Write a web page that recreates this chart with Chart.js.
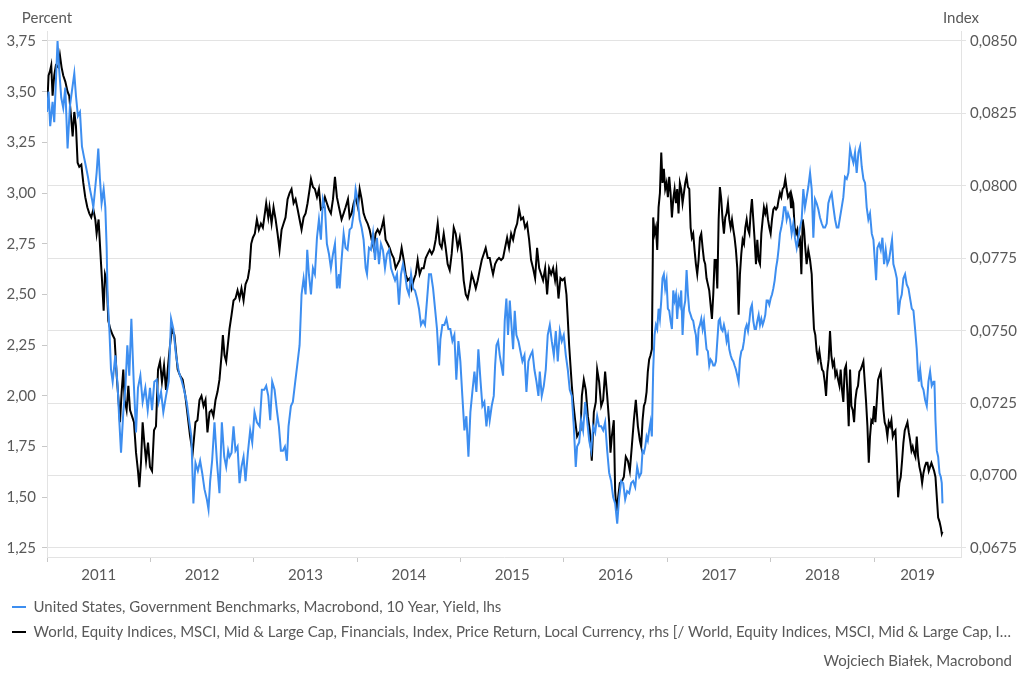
<!DOCTYPE html>
<html>
<head>
<meta charset="utf-8">
<title>US 10Y yield vs MSCI World Financials</title>
<script src="https://cdn.jsdelivr.net/npm/chart.js@4.4.1/dist/chart.umd.min.js"></script>
<style>
  body { margin: 0; background: #fff; }
  #wrap { width: 1024px; height: 681px; position: relative; }
</style>
</head>
<body>
<div id="wrap"><canvas id="chart"></canvas></div>
<script>
// US 10Y government benchmark yield, percent (lhs)
const yieldDates = [
  2011.000, 2011.015, 2011.031, 2011.054, 2011.070, 2011.086, 2011.102, 2011.119, 2011.138, 2011.157,
  2011.177, 2011.199, 2011.222, 2011.248, 2011.264, 2011.280, 2011.299, 2011.319, 2011.338, 2011.357,
  2011.377, 2011.396, 2011.415, 2011.435, 2011.448, 2011.467, 2011.480, 2011.496, 2011.512, 2011.528,
  2011.548, 2011.564, 2011.577, 2011.586, 2011.603, 2011.619, 2011.635, 2011.661, 2011.683, 2011.699,
  2011.716, 2011.738, 2011.758, 2011.777, 2011.796, 2011.816, 2011.838, 2011.861, 2011.880, 2011.903,
  2011.925, 2011.951, 2011.974, 2011.996, 2012.016, 2012.038, 2012.061, 2012.080, 2012.103, 2012.125,
  2012.151, 2012.177, 2012.200, 2012.222, 2012.248, 2012.274, 2012.300, 2012.325, 2012.351, 2012.377,
  2012.396, 2012.416, 2012.436, 2012.459, 2012.481, 2012.501, 2012.523, 2012.546, 2012.562, 2012.578,
  2012.597, 2012.620, 2012.643, 2012.668, 2012.691, 2012.714, 2012.733, 2012.752, 2012.765, 2012.785,
  2012.804, 2012.823, 2012.843, 2012.862, 2012.881, 2012.901, 2012.920, 2012.943, 2012.965, 2012.985,
  2013.007, 2013.030, 2013.056, 2013.078, 2013.101, 2013.120, 2013.140, 2013.159, 2013.178, 2013.201,
  2013.223, 2013.243, 2013.262, 2013.282, 2013.301, 2013.320, 2013.336, 2013.359, 2013.378, 2013.401,
  2013.420, 2013.443, 2013.462, 2013.482, 2013.501, 2013.517, 2013.533, 2013.553, 2013.572, 2013.591,
  2013.611, 2013.630, 2013.649, 2013.669, 2013.688, 2013.707, 2013.727, 2013.746, 2013.766, 2013.785,
  2013.804, 2013.824, 2013.830, 2013.849, 2013.869, 2013.888, 2013.907, 2013.927, 2013.946, 2013.966,
  2013.985, 2014.004, 2014.024, 2014.043, 2014.062, 2014.082, 2014.095, 2014.114, 2014.133, 2014.153,
  2014.172, 2014.191, 2014.211, 2014.230, 2014.249, 2014.269, 2014.288, 2014.308, 2014.327, 2014.346,
  2014.366, 2014.385, 2014.404, 2014.424, 2014.443, 2014.462, 2014.482, 2014.501, 2014.521, 2014.540,
  2014.559, 2014.579, 2014.598, 2014.617, 2014.637, 2014.656, 2014.675, 2014.695, 2014.714, 2014.734,
  2014.753, 2014.772, 2014.792, 2014.805, 2014.824, 2014.843, 2014.863, 2014.882, 2014.901, 2014.921,
  2014.940, 2014.959, 2014.979, 2014.998, 2015.017, 2015.037, 2015.056, 2015.076, 2015.095, 2015.114,
  2015.134, 2015.153, 2015.172, 2015.192, 2015.211, 2015.230, 2015.250, 2015.269, 2015.282, 2015.301,
  2015.321, 2015.334, 2015.347, 2015.363, 2015.379, 2015.395, 2015.411, 2015.427, 2015.443, 2015.459,
  2015.476, 2015.492, 2015.508, 2015.524, 2015.540, 2015.560, 2015.579, 2015.598, 2015.618, 2015.637,
  2015.656, 2015.676, 2015.695, 2015.714, 2015.734, 2015.753, 2015.766, 2015.785, 2015.805, 2015.824,
  2015.843, 2015.863, 2015.882, 2015.902, 2015.921, 2015.940, 2015.960, 2015.979, 2015.998, 2016.018,
  2016.037, 2016.056, 2016.076, 2016.095, 2016.114, 2016.127, 2016.147, 2016.166, 2016.185, 2016.205,
  2016.224, 2016.244, 2016.263, 2016.282, 2016.302, 2016.321, 2016.340, 2016.360, 2016.379, 2016.398,
  2016.418, 2016.437, 2016.456, 2016.476, 2016.495, 2016.515, 2016.534, 2016.553, 2016.573, 2016.592,
  2016.611, 2016.631, 2016.650, 2016.669, 2016.689, 2016.708, 2016.728, 2016.747, 2016.760, 2016.773,
  2016.786, 2016.799, 2016.811, 2016.824, 2016.837, 2016.850, 2016.863, 2016.876, 2016.889, 2016.902,
  2016.915, 2016.928, 2016.941, 2016.953, 2016.966, 2016.979, 2016.992, 2017.005, 2017.018, 2017.031,
  2017.044, 2017.057, 2017.070, 2017.083, 2017.095, 2017.108, 2017.121, 2017.134, 2017.147, 2017.160,
  2017.173, 2017.186, 2017.199, 2017.212, 2017.225, 2017.237, 2017.250, 2017.263, 2017.276, 2017.289,
  2017.302, 2017.315, 2017.328, 2017.341, 2017.354, 2017.366, 2017.379, 2017.392, 2017.405, 2017.418,
  2017.431, 2017.444, 2017.457, 2017.470, 2017.483, 2017.496, 2017.508, 2017.521, 2017.534, 2017.547,
  2017.560, 2017.573, 2017.586, 2017.599, 2017.612, 2017.625, 2017.638, 2017.650, 2017.663, 2017.676,
  2017.689, 2017.702, 2017.715, 2017.728, 2017.741, 2017.754, 2017.767, 2017.780, 2017.793, 2017.805,
  2017.818, 2017.831, 2017.844, 2017.857, 2017.870, 2017.883, 2017.896, 2017.909, 2017.922, 2017.934,
  2017.947, 2017.960, 2017.973, 2017.986, 2017.999, 2018.012, 2018.025, 2018.038, 2018.051, 2018.064,
  2018.077, 2018.089, 2018.102, 2018.115, 2018.128, 2018.141, 2018.154, 2018.167, 2018.186, 2018.202,
  2018.218, 2018.234, 2018.251, 2018.267, 2018.283, 2018.299, 2018.315, 2018.331, 2018.347, 2018.363,
  2018.380, 2018.396, 2018.412, 2018.428, 2018.444, 2018.460, 2018.476, 2018.493, 2018.509, 2018.525,
  2018.541, 2018.557, 2018.573, 2018.589, 2018.606, 2018.622, 2018.638, 2018.654, 2018.670, 2018.686,
  2018.702, 2018.718, 2018.735, 2018.751, 2018.767, 2018.783, 2018.799, 2018.815, 2018.831, 2018.848,
  2018.864, 2018.880, 2018.896, 2018.912, 2018.928, 2018.944, 2018.960, 2018.977, 2018.993, 2019.009,
  2019.019, 2019.031, 2019.048, 2019.064, 2019.080, 2019.096, 2019.112, 2019.128, 2019.144, 2019.161,
  2019.173, 2019.186, 2019.202, 2019.219, 2019.235, 2019.251, 2019.267, 2019.283, 2019.299, 2019.315,
  2019.332, 2019.348, 2019.364, 2019.380, 2019.396, 2019.412, 2019.422, 2019.432, 2019.445, 2019.461,
  2019.477, 2019.493, 2019.509, 2019.525, 2019.541, 2019.557, 2019.574, 2019.583, 2019.593, 2019.606,
  2019.619, 2019.632, 2019.645, 2019.654, 2019.661
];
const yieldValues = [
  3.40, 3.50, 3.33, 3.45, 3.35, 3.55, 3.75, 3.60, 3.47, 3.42,
  3.52, 3.22, 3.43, 3.53, 3.59, 3.48, 3.38, 3.40, 3.23, 3.18,
  3.13, 3.08, 3.02, 2.97, 2.93, 3.03, 3.10, 3.22, 3.07, 2.95,
  3.02, 2.93, 2.73, 2.49, 2.33, 2.13, 2.07, 2.20, 2.05, 1.88,
  1.72, 1.92, 2.04, 2.25, 2.10, 2.38, 2.08, 1.82, 2.04, 2.10,
  1.97, 2.04, 1.93, 2.04, 1.93, 2.07, 2.08, 1.97, 2.02, 1.92,
  2.00, 2.07, 2.38, 2.33, 2.20, 2.12, 2.08, 2.03, 1.97, 1.87,
  1.80, 1.47, 1.67, 1.63, 1.68, 1.62, 1.54, 1.49, 1.44, 1.58,
  1.68, 1.87, 1.68, 1.52, 1.87, 1.70, 1.65, 1.73, 1.70, 1.72,
  1.85, 1.73, 1.75, 1.57, 1.65, 1.70, 1.58, 1.72, 1.83, 1.77,
  1.92, 1.87, 1.85, 2.03, 2.03, 2.05, 2.00, 1.88, 2.07, 2.03,
  1.93, 1.85, 1.73, 1.73, 1.75, 1.68, 1.85, 1.95, 1.97, 2.07,
  2.15, 2.25, 2.50, 2.58, 2.50, 2.72, 2.60, 2.50, 2.63, 2.60,
  2.78, 2.87, 2.77, 2.97, 2.93, 2.75, 2.70, 2.63, 2.70, 2.75,
  2.53, 2.60, 2.53, 2.67, 2.80, 2.73, 2.72, 2.82, 2.83, 2.90,
  3.02, 2.97, 2.87, 2.83, 2.77, 2.63, 2.60, 2.73, 2.72, 2.80,
  2.67, 2.78, 2.65, 2.75, 2.72, 2.63, 2.70, 2.72, 2.63, 2.60,
  2.57, 2.60, 2.45, 2.60, 2.65, 2.60, 2.53, 2.50, 2.60, 2.53,
  2.52, 2.48, 2.43, 2.35, 2.37, 2.35, 2.47, 2.60, 2.60, 2.53,
  2.43, 2.33, 2.15, 2.28, 2.35, 2.35, 2.38, 2.33, 2.33, 2.27,
  2.30, 2.08, 2.27, 2.17, 2.00, 1.83, 1.90, 1.70, 1.92, 2.02,
  2.12, 2.02, 2.23, 2.08, 1.95, 1.97, 1.85, 1.95, 1.88, 1.95,
  2.00, 2.15, 2.25, 2.27, 2.20, 2.15, 2.10, 2.37, 2.48, 2.30,
  2.47, 2.35, 2.23, 2.42, 2.30, 2.27, 2.22, 2.17, 2.20, 2.02,
  2.17, 2.20, 2.22, 2.13, 2.07, 2.00, 2.12, 2.00, 2.05, 2.13,
  2.30, 2.35, 2.27, 2.20, 2.32, 2.17, 2.32, 2.27, 2.30, 2.20,
  2.13, 2.03, 2.00, 1.85, 1.65, 1.75, 1.77, 1.88, 1.83, 1.97,
  1.88, 1.78, 1.73, 1.85, 1.82, 1.90, 1.85, 1.85, 1.83, 1.87,
  1.73, 1.62, 1.58, 1.50, 1.47, 1.37, 1.50, 1.58, 1.57, 1.49,
  1.53, 1.52, 1.57, 1.58, 1.55, 1.65, 1.60, 1.62, 1.73, 1.72,
  1.75, 1.80, 1.78, 1.83, 1.87, 1.80, 2.13, 2.30, 2.35, 2.33,
  2.43, 2.38, 2.47, 2.58, 2.60, 2.53, 2.57, 2.43, 2.42, 2.37,
  2.33, 2.52, 2.47, 2.50, 2.38, 2.48, 2.45, 2.52, 2.30, 2.43,
  2.47, 2.62, 2.50, 2.42, 2.40, 2.38, 2.37, 2.33, 2.30, 2.20,
  2.33, 2.35, 2.38, 2.33, 2.37, 2.30, 2.23, 2.22, 2.15, 2.18,
  2.17, 2.15, 2.15, 2.17, 2.27, 2.37, 2.38, 2.33, 2.32, 2.35,
  2.32, 2.27, 2.30, 2.23, 2.20, 2.18, 2.17, 2.15, 2.13, 2.10,
  2.07, 2.18, 2.22, 2.23, 2.27, 2.33, 2.35, 2.32, 2.37, 2.43,
  2.45, 2.37, 2.33, 2.33, 2.37, 2.40, 2.35, 2.38, 2.35, 2.37,
  2.40, 2.47, 2.47, 2.45, 2.48, 2.50, 2.53, 2.57, 2.63, 2.67,
  2.73, 2.80, 2.83, 2.87, 2.93, 2.93, 2.87, 2.90, 2.87, 2.80,
  2.85, 2.78, 2.73, 2.78, 2.83, 2.87, 3.02, 2.93, 2.98, 3.03,
  3.10, 3.02, 2.78, 2.97, 2.95, 2.92, 2.88, 2.85, 2.83, 2.83,
  2.85, 2.95, 2.98, 3.00, 2.93, 2.87, 2.83, 2.83, 2.88, 2.93,
  2.98, 3.08, 3.07, 3.10, 3.22, 3.18, 3.15, 3.20, 3.10, 3.20,
  3.23, 3.13, 3.07, 3.05, 2.93, 2.87, 2.90, 2.80, 2.77, 2.65,
  2.57, 2.73, 2.75, 2.72, 2.78, 2.65, 2.72, 2.65, 2.67, 2.73,
  2.77, 2.65, 2.62, 2.58, 2.40, 2.47, 2.50, 2.58, 2.60, 2.55,
  2.53, 2.48, 2.43, 2.42, 2.33, 2.23, 2.13, 2.07, 2.13, 2.05,
  2.03, 1.98, 1.95, 2.07, 2.12, 2.05, 2.07, 2.07, 1.88, 1.73,
  1.70, 1.62, 1.60, 1.57, 1.47
];

// MSCI World financials index, local currency (rhs)
const equityDates = [
  2011.000, 2011.015, 2011.028, 2011.041, 2011.054, 2011.070, 2011.086, 2011.109, 2011.125, 2011.141,
  2011.157, 2011.177, 2011.199, 2011.215, 2011.232, 2011.248, 2011.264, 2011.280, 2011.296, 2011.312,
  2011.332, 2011.351, 2011.370, 2011.390, 2011.409, 2011.428, 2011.448, 2011.467, 2011.480, 2011.499,
  2011.515, 2011.532, 2011.548, 2011.561, 2011.577, 2011.593, 2011.612, 2011.635, 2011.654, 2011.674,
  2011.693, 2011.706, 2011.722, 2011.738, 2011.751, 2011.770, 2011.787, 2011.803, 2011.822, 2011.841,
  2011.861, 2011.880, 2011.893, 2011.909, 2011.925, 2011.941, 2011.958, 2011.977, 2011.996, 2012.016,
  2012.035, 2012.054, 2012.074, 2012.093, 2012.112, 2012.132, 2012.151, 2012.171, 2012.190, 2012.209,
  2012.232, 2012.264, 2012.287, 2012.312, 2012.338, 2012.361, 2012.384, 2012.409, 2012.436, 2012.455,
  2012.475, 2012.494, 2012.514, 2012.533, 2012.552, 2012.572, 2012.591, 2012.610, 2012.630, 2012.649,
  2012.668, 2012.688, 2012.701, 2012.717, 2012.733, 2012.749, 2012.765, 2012.785, 2012.804, 2012.823,
  2012.843, 2012.862, 2012.881, 2012.901, 2012.920, 2012.943, 2012.959, 2012.975, 2012.991, 2013.010,
  2013.030, 2013.049, 2013.069, 2013.088, 2013.107, 2013.120, 2013.140, 2013.152, 2013.172, 2013.191,
  2013.211, 2013.230, 2013.249, 2013.269, 2013.288, 2013.307, 2013.327, 2013.346, 2013.365, 2013.385,
  2013.404, 2013.424, 2013.443, 2013.462, 2013.482, 2013.501, 2013.520, 2013.540, 2013.553, 2013.572,
  2013.591, 2013.611, 2013.630, 2013.649, 2013.669, 2013.688, 2013.707, 2013.727, 2013.746, 2013.766,
  2013.785, 2013.804, 2013.824, 2013.849, 2013.869, 2013.888, 2013.911, 2013.927, 2013.946, 2013.966,
  2013.985, 2014.007, 2014.024, 2014.043, 2014.062, 2014.082, 2014.101, 2014.120, 2014.140, 2014.159,
  2014.178, 2014.198, 2014.217, 2014.237, 2014.256, 2014.275, 2014.295, 2014.314, 2014.333, 2014.353,
  2014.372, 2014.391, 2014.411, 2014.430, 2014.450, 2014.469, 2014.488, 2014.508, 2014.527, 2014.546,
  2014.566, 2014.585, 2014.604, 2014.624, 2014.643, 2014.663, 2014.682, 2014.701, 2014.721, 2014.740,
  2014.759, 2014.779, 2014.798, 2014.817, 2014.837, 2014.856, 2014.875, 2014.895, 2014.914, 2014.934,
  2014.953, 2014.972, 2014.992, 2015.011, 2015.030, 2015.050, 2015.069, 2015.088, 2015.108, 2015.127,
  2015.147, 2015.166, 2015.185, 2015.205, 2015.224, 2015.243, 2015.263, 2015.282, 2015.301, 2015.314,
  2015.334, 2015.353, 2015.372, 2015.392, 2015.411, 2015.430, 2015.450, 2015.469, 2015.489, 2015.508,
  2015.527, 2015.547, 2015.566, 2015.585, 2015.605, 2015.624, 2015.643, 2015.663, 2015.682, 2015.701,
  2015.721, 2015.740, 2015.760, 2015.779, 2015.798, 2015.818, 2015.837, 2015.856, 2015.876, 2015.895,
  2015.914, 2015.927, 2015.947, 2015.966, 2015.985, 2016.005, 2016.024, 2016.037, 2016.050, 2016.063,
  2016.076, 2016.089, 2016.108, 2016.127, 2016.147, 2016.160, 2016.173, 2016.192, 2016.211, 2016.231,
  2016.250, 2016.269, 2016.289, 2016.308, 2016.321, 2016.340, 2016.360, 2016.379, 2016.398, 2016.418,
  2016.437, 2016.450, 2016.463, 2016.482, 2016.495, 2016.508, 2016.524, 2016.540, 2016.560, 2016.579,
  2016.598, 2016.618, 2016.637, 2016.656, 2016.676, 2016.695, 2016.715, 2016.734, 2016.747, 2016.760,
  2016.773, 2016.786, 2016.799, 2016.811, 2016.824, 2016.837, 2016.850, 2016.863, 2016.876, 2016.889,
  2016.902, 2016.915, 2016.928, 2016.941, 2016.953, 2016.966, 2016.979, 2016.992, 2017.005, 2017.018,
  2017.031, 2017.044, 2017.057, 2017.070, 2017.083, 2017.095, 2017.108, 2017.121, 2017.134, 2017.147,
  2017.160, 2017.173, 2017.186, 2017.199, 2017.212, 2017.225, 2017.237, 2017.250, 2017.263, 2017.276,
  2017.289, 2017.302, 2017.315, 2017.328, 2017.341, 2017.354, 2017.366, 2017.379, 2017.392, 2017.405,
  2017.418, 2017.431, 2017.444, 2017.457, 2017.470, 2017.483, 2017.496, 2017.508, 2017.521, 2017.534,
  2017.547, 2017.560, 2017.573, 2017.586, 2017.599, 2017.612, 2017.625, 2017.638, 2017.650, 2017.663,
  2017.676, 2017.689, 2017.702, 2017.715, 2017.728, 2017.741, 2017.754, 2017.767, 2017.780, 2017.793,
  2017.805, 2017.818, 2017.831, 2017.844, 2017.857, 2017.870, 2017.883, 2017.896, 2017.909, 2017.922,
  2017.934, 2017.947, 2017.960, 2017.973, 2017.986, 2017.999, 2018.012, 2018.025, 2018.038, 2018.051,
  2018.064, 2018.077, 2018.089, 2018.102, 2018.115, 2018.128, 2018.141, 2018.154, 2018.167, 2018.186,
  2018.196, 2018.205, 2018.218, 2018.231, 2018.244, 2018.257, 2018.270, 2018.283, 2018.296, 2018.309,
  2018.322, 2018.334, 2018.347, 2018.363, 2018.380, 2018.396, 2018.405, 2018.418, 2018.431, 2018.444,
  2018.457, 2018.470, 2018.483, 2018.496, 2018.509, 2018.522, 2018.535, 2018.547, 2018.560, 2018.573,
  2018.586, 2018.599, 2018.612, 2018.625, 2018.638, 2018.651, 2018.664, 2018.676, 2018.689, 2018.702,
  2018.715, 2018.728, 2018.741, 2018.754, 2018.767, 2018.780, 2018.793, 2018.806, 2018.818, 2018.831,
  2018.844, 2018.857, 2018.870, 2018.883, 2018.896, 2018.909, 2018.922, 2018.935, 2018.948, 2018.960,
  2018.973, 2018.986, 2018.999, 2019.012, 2019.025, 2019.038, 2019.051, 2019.064, 2019.077, 2019.090,
  2019.102, 2019.115, 2019.128, 2019.141, 2019.154, 2019.167, 2019.180, 2019.193, 2019.206, 2019.219,
  2019.232, 2019.244, 2019.257, 2019.270, 2019.283, 2019.296, 2019.309, 2019.322, 2019.335, 2019.348,
  2019.361, 2019.373, 2019.386, 2019.399, 2019.412, 2019.425, 2019.438, 2019.451, 2019.464, 2019.477,
  2019.490, 2019.503, 2019.516, 2019.528, 2019.541, 2019.554, 2019.567, 2019.580, 2019.593, 2019.606,
  2019.619, 2019.632, 2019.645, 2019.654, 2019.661
];
const equityValues = [
  0.08255, 0.08381, 0.08395, 0.08416, 0.08311, 0.08381, 0.08416, 0.08409, 0.08451, 0.08409,
  0.08381, 0.08360, 0.08325, 0.08311, 0.08241, 0.08171, 0.08255, 0.08206, 0.08080, 0.08066,
  0.08073, 0.08010, 0.07961, 0.07926, 0.07905, 0.07891, 0.07919, 0.07884, 0.07835, 0.07884,
  0.07779, 0.07674, 0.07569, 0.07695, 0.07674, 0.07534, 0.07506, 0.07485, 0.07471, 0.07345,
  0.07254, 0.07184, 0.07289, 0.07366, 0.07261, 0.07226, 0.07310, 0.07226, 0.07205, 0.07184,
  0.07079, 0.07016, 0.06960, 0.07044, 0.07184, 0.07114, 0.07051, 0.07114, 0.07030, 0.07016,
  0.07156, 0.07170, 0.07366, 0.07394, 0.07324, 0.07380, 0.07296, 0.07380, 0.07450, 0.07506,
  0.07485, 0.07366, 0.07345, 0.07331, 0.07275, 0.07205, 0.07135, 0.07079, 0.07184, 0.07191,
  0.07261, 0.07275, 0.07240, 0.07261, 0.07149, 0.07219, 0.07226, 0.07205, 0.07261, 0.07289,
  0.07331, 0.07415, 0.07485, 0.07415, 0.07394, 0.07450, 0.07506, 0.07555, 0.07604, 0.07611,
  0.07639, 0.07611, 0.07646, 0.07604, 0.07660, 0.07681, 0.07716, 0.07800, 0.07821, 0.07835,
  0.07884, 0.07849, 0.07870, 0.07856, 0.07905, 0.07940, 0.07891, 0.07926, 0.07870, 0.07926,
  0.07884, 0.07835, 0.07779, 0.07849, 0.07870, 0.07891, 0.07954, 0.07975, 0.07989, 0.07940,
  0.07954, 0.07919, 0.07884, 0.07849, 0.07891, 0.07905, 0.07940, 0.07989, 0.08024, 0.07996,
  0.07989, 0.07961, 0.07989, 0.07919, 0.07926, 0.07961, 0.07940, 0.07919, 0.07905, 0.07954,
  0.08031, 0.07961, 0.07926, 0.07884, 0.07905, 0.07926, 0.07954, 0.07891, 0.07905, 0.07940,
  0.07961, 0.07926, 0.07989, 0.07954, 0.07905, 0.07884, 0.07870, 0.07849, 0.07814, 0.07786,
  0.07835, 0.07849, 0.07835, 0.07856, 0.07884, 0.07814, 0.07800, 0.07786, 0.07765, 0.07751,
  0.07716, 0.07730, 0.07744, 0.07786, 0.07744, 0.07695, 0.07674, 0.07681, 0.07646, 0.07674,
  0.07695, 0.07744, 0.07695, 0.07716, 0.07716, 0.07751, 0.07765, 0.07779, 0.07765, 0.07779,
  0.07814, 0.07870, 0.07800, 0.07786, 0.07835, 0.07786, 0.07730, 0.07709, 0.07765, 0.07856,
  0.07835, 0.07786, 0.07821, 0.07765, 0.07674, 0.07625, 0.07611, 0.07646, 0.07695, 0.07674,
  0.07646, 0.07674, 0.07709, 0.07744, 0.07765, 0.07786, 0.07751, 0.07751, 0.07716, 0.07695,
  0.07730, 0.07744, 0.07751, 0.07744, 0.07751, 0.07786, 0.07821, 0.07786, 0.07835, 0.07814,
  0.07849, 0.07870, 0.07919, 0.07884, 0.07891, 0.07856, 0.07870, 0.07814, 0.07744, 0.07716,
  0.07681, 0.07786, 0.07716, 0.07695, 0.07674, 0.07716, 0.07625, 0.07716, 0.07695, 0.07716,
  0.07674, 0.07709, 0.07611, 0.07681, 0.07674, 0.07681, 0.07625, 0.07541, 0.07450, 0.07380,
  0.07310, 0.07254, 0.07191, 0.07135, 0.07149, 0.07156, 0.07275, 0.07331, 0.07296, 0.07205,
  0.07156, 0.07051, 0.07219, 0.07254, 0.07366, 0.07324, 0.07240, 0.07261, 0.07359, 0.07275,
  0.07184, 0.07079, 0.07135, 0.07191, 0.06946, 0.06876, 0.06925, 0.06974, 0.06981, 0.06995,
  0.07065, 0.07051, 0.07016, 0.07100, 0.07191, 0.07261, 0.07170, 0.07121, 0.07100, 0.07191,
  0.07240, 0.07254, 0.07289, 0.07359, 0.07401, 0.07415, 0.07436, 0.07891, 0.07835, 0.07856,
  0.07779, 0.07926, 0.07975, 0.08115, 0.08010, 0.08059, 0.07989, 0.08010, 0.07961, 0.08031,
  0.07975, 0.07891, 0.07954, 0.07989, 0.07940, 0.07989, 0.07905, 0.08010, 0.07989, 0.07940,
  0.07975, 0.08010, 0.08031, 0.07996, 0.07989, 0.07856, 0.07821, 0.07835, 0.07779, 0.07730,
  0.07695, 0.07744, 0.07821, 0.07835, 0.07786, 0.07744, 0.07730, 0.07681, 0.07660, 0.07639,
  0.07590, 0.07541, 0.07625, 0.07744, 0.07744, 0.07646, 0.07884, 0.07996, 0.07954, 0.07884,
  0.07835, 0.07891, 0.07905, 0.07940, 0.07884, 0.07856, 0.07884, 0.07849, 0.07821, 0.07779,
  0.07716, 0.07555, 0.07695, 0.07765, 0.07814, 0.07800, 0.07856, 0.07884, 0.07849, 0.07835,
  0.07905, 0.07954, 0.07884, 0.07814, 0.07730, 0.07814, 0.07744, 0.07730, 0.07835, 0.07884,
  0.07926, 0.07905, 0.07926, 0.07884, 0.07856, 0.07835, 0.07884, 0.07919, 0.07926, 0.07919,
  0.07926, 0.07954, 0.07975, 0.07961, 0.07989, 0.07996, 0.08024, 0.07989, 0.07961, 0.07975,
  0.07926, 0.07961, 0.07940, 0.07856, 0.07835, 0.07849, 0.07800, 0.07814, 0.07695, 0.07884,
  0.07849, 0.07786, 0.07730, 0.07779, 0.07744, 0.07695, 0.07604, 0.07506, 0.07485, 0.07429,
  0.07401, 0.07429, 0.07394, 0.07366, 0.07359, 0.07324, 0.07275, 0.07359, 0.07401, 0.07499,
  0.07415, 0.07380, 0.07394, 0.07345, 0.07359, 0.07331, 0.07310, 0.07366, 0.07296, 0.07254,
  0.07366, 0.07380, 0.07289, 0.07170, 0.07366, 0.07240, 0.07226, 0.07184, 0.07261, 0.07296,
  0.07310, 0.07359, 0.07366, 0.07380, 0.07394, 0.07324, 0.07254, 0.07170, 0.07044, 0.07135,
  0.07191, 0.07184, 0.07240, 0.07184, 0.07254, 0.07331, 0.07345, 0.07359, 0.07296, 0.07226,
  0.07184, 0.07170, 0.07135, 0.07184, 0.07170, 0.07191, 0.07135, 0.07149, 0.07156, 0.07051,
  0.06925, 0.06974, 0.06995, 0.07051, 0.07114, 0.07156, 0.07170, 0.07184, 0.07149, 0.07121,
  0.07086, 0.07100, 0.07079, 0.07065, 0.07135, 0.07065, 0.07030, 0.07009, 0.06974, 0.07009,
  0.07030, 0.07044, 0.07044, 0.07016, 0.07030, 0.07044, 0.07030, 0.07016, 0.06995, 0.06925,
  0.06855, 0.06841, 0.06820, 0.06799, 0.06806
];

const yearStarts = [2011, 2012, 2013, 2014, 2015, 2016, 2017, 2018, 2019];
const yearLabels = ['2011', '2012', '2013', '2014', '2015', '2016', '2017', '2018', '2019'];
const yearLabelPos = [2011.5, 2012.5, 2013.5, 2014.5, 2015.5, 2016.5, 2017.5, 2018.5, 2019.42];
const leftTicks = [1.25, 1.5, 1.75, 2.0, 2.25, 2.5, 2.75, 3.0, 3.25, 3.5, 3.75];
const rightTicks = [0.0675, 0.07, 0.0725, 0.075, 0.0775, 0.08, 0.0825, 0.085];

const textGray = '#595959';
const lineGray = '#e3e3e3';
const tickGray = '#c8c8c8';
const fontStack = "Lato, 'Open Sans', sans-serif";

Chart.defaults.font.family = fontStack;
Chart.defaults.font.size = 15;
Chart.defaults.color = textGray;

const toPoints = (xs, ys) => xs.map((x, i) => ({ x: x, y: ys[i] }));
const comma = (v, d) => v.toFixed(d).replace('.', ',');

// axis captions on top, source credit bottom right
const captions = {
  id: 'captions',
  afterDraw(chart) {
    const { ctx, scales } = chart;
    ctx.save();
    ctx.font = '15px ' + fontStack;
    ctx.fillStyle = textGray;
    ctx.textBaseline = 'middle';
    ctx.textAlign = 'center';
    ctx.fillText('Percent', scales.y.right, 18);
    ctx.fillText('Index', scales.y1.left, 18);
    ctx.textAlign = 'right';
    ctx.fillText('Wojciech Bia\u0142ek, Macrobond', 1012, 661);
    ctx.restore();
  }
};

const ctx = document.getElementById('chart').getContext('2d');
const chart = new Chart(ctx, {
  type: 'line',
  data: {
    datasets: [{
      label: 'United States, Government Benchmarks, Macrobond, 10 Year, Yield, lhs',
      data: toPoints(yieldDates, yieldValues),
      yAxisID: 'y',
      borderColor: '#3d8ef0',
      backgroundColor: '#3d8ef0',
      borderWidth: 2,
      pointRadius: 0,
      tension: 0
    }, {
      label: 'World, Equity Indices, MSCI, Mid & Large Cap, Financials, Index, Price Return, Local Currency, rhs [/ World, Equity Indices, MSCI, Mid & Large Cap, I\u2026',
      data: toPoints(equityDates, equityValues),
      yAxisID: 'y1',
      borderColor: '#000000',
      backgroundColor: '#000000',
      borderWidth: 2,
      pointRadius: 0,
      tension: 0
    }]
  },
  options: {
    responsive: true,
    maintainAspectRatio: false,
    animation: false,
    events: [],
    layout: { padding: { top: 31, right: 0, bottom: 31.5, left: 2 } },
    scales: {
      x: {
        type: 'linear',
        min: 2011,
        max: 2019.84,
        afterBuildTicks: function (scale) {
          scale.ticks = yearStarts.concat(yearLabelPos).sort((a, b) => a - b).map(v => ({ value: v }));
        },
        afterFit: function (scale) { scale.height = 32.5; },
        ticks: {
          autoSkip: false,
          maxRotation: 0,
          padding: 4,
          color: textGray,
          callback: function (value) {
            const i = yearLabelPos.indexOf(value);
            return i < 0 ? '' : yearLabels[i];
          }
        },
        grid: {
          drawOnChartArea: false,
          tickLength: 5,
          color: c => (c.tick && yearStarts.includes(c.tick.value)) ? tickGray : 'rgba(0,0,0,0)'
        },
        border: { color: lineGray }
      },
      y: {
        type: 'linear',
        position: 'left',
        min: 1.2056,   // 1,25 sits 9px above the x axis line
        max: 3.7993,   // 3,75 sits 10px below the top
        afterBuildTicks: function (scale) { scale.ticks = leftTicks.map(v => ({ value: v })); },
        afterFit: function (scale) { scale.width = 45; },
        ticks: { padding: 6, color: textGray, callback: v => comma(v, 2) },
        grid: { drawOnChartArea: false, tickLength: 5, color: tickGray },
        border: { color: lineGray }
      },
      y1: {
        type: 'linear',
        position: 'right',
        min: 0.067189,
        max: 0.085345,
        afterBuildTicks: function (scale) { scale.ticks = rightTicks.map(v => ({ value: v })); },
        afterFit: function (scale) { scale.width = 63; },
        ticks: { padding: 4, color: textGray, callback: v => comma(v, 4) },
        grid: { drawOnChartArea: true, tickLength: 5, color: lineGray },
        border: { color: lineGray }
      }
    },
    plugins: {
      legend: {
        position: 'bottom',
        align: 'start',
        labels: {
          boxWidth: 14,
          boxHeight: 2,
          padding: 10,
          color: textGray,
          generateLabels: function (c) {
            return Chart.defaults.plugins.legend.labels.generateLabels(c).map(item => Object.assign(item, { lineWidth: 0 }));
          }
        }
      },
      tooltip: { enabled: false }
    }
  },
  plugins: [captions]
});
</script>
</body>
</html>
